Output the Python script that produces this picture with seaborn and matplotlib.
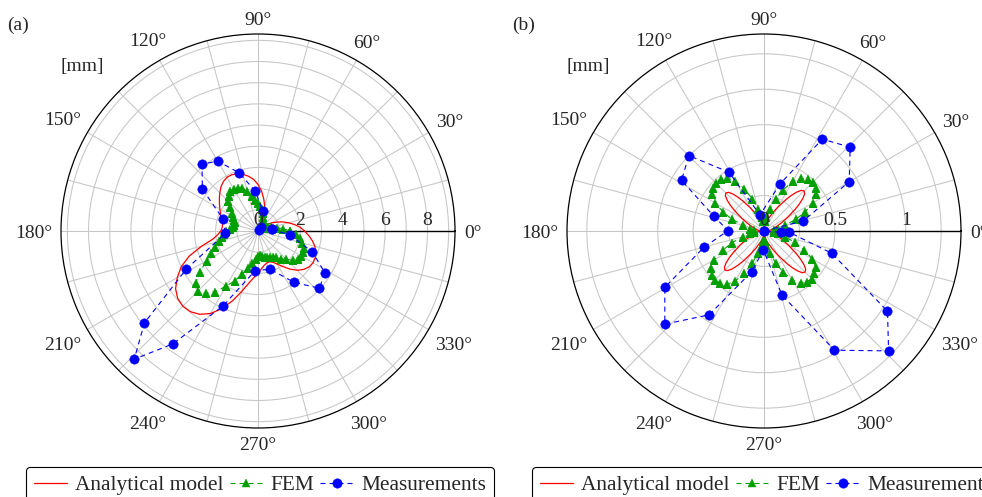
import numpy as np
import pandas as pd
import matplotlib
matplotlib.use("Agg")
import matplotlib.pyplot as plt
from matplotlib.transforms import offset_copy, IdentityTransform
import seaborn as sns

# ---------------- data: panel (a) [mm] ----------------
a_model_deg = [0, 5, 10, 15, 20, 25, 30, 35, 40, 45, 50, 55, 60, 65, 70, 75, 80, 85,
               90, 95, 100, 105, 110, 115, 120, 125, 130, 135, 140, 145, 150, 155, 160, 165,
               170, 175, 180, 185, 190, 195, 200, 205, 210, 215, 220, 225, 230, 235, 240, 245,
               250, 255, 260, 265, 270, 275, 280, 285, 290, 295, 300, 305, 310, 315, 320, 325,
               330, 335, 340, 345, 350, 355]
a_model_r = [2.2, 2.0, 1.75, 1.5, 1.25, 1.0, 0.78, 0.58, 0.45, 0.38, 0.38, 0.45, 0.58, 0.75,
             0.97, 1.22, 1.55, 1.9, 2.2, 2.45, 2.63, 2.77, 2.87, 2.93, 2.93, 2.85, 2.72, 2.55,
             2.38, 2.22, 2.08, 1.95, 1.84, 1.75, 1.7, 1.7, 1.76, 1.9, 2.15, 2.75, 3.45, 4.0,
             4.4, 4.75, 4.95, 5.02, 4.97, 4.8, 4.5, 4.05, 3.5, 2.95, 2.5, 2.2, 2.0, 1.8, 1.65,
             1.57, 1.55, 1.62, 1.8, 2.05, 2.35, 2.62, 2.82, 2.95, 3.0, 2.98, 2.9, 2.78, 2.6, 2.4]

a_fem_deg = [0, 5, 10, 15, 20, 25, 30, 35, 40, 45, 50, 55, 60, 65, 70, 75, 80, 85,
             90, 95, 100, 105, 110, 115, 120, 125, 130, 135, 140, 145, 150, 155, 160, 165,
             170, 175, 180, 185, 190, 195, 200, 205, 210, 215, 220, 225, 230, 235, 240, 245,
             250, 255, 260, 265, 270, 275, 280, 285, 290, 295, 300, 305, 310, 315, 320, 325,
             330, 335, 340, 345, 350, 355]
a_fem_r = [1.5, 1.2, 0.9, 0.65, 0.5, 0.4, 0.32, 0.3, 0.3, 0.3, 0.35, 0.4, 0.45, 0.55, 0.7,
           0.9, 1.05, 1.2, 1.3, 1.45, 1.7, 1.95, 2.15, 2.25, 2.3, 2.28, 2.15, 1.97, 1.75, 1.5,
           1.35, 1.25, 1.18, 1.18, 1.22, 1.35, 1.5, 1.6, 1.72, 1.9, 2.15, 2.45, 2.8, 3.35, 3.85,
           3.98, 3.85, 3.5, 3.0, 2.6, 2.15, 1.8, 1.55, 1.35, 1.2, 1.15, 1.2, 1.25, 1.3, 1.35,
           1.4, 1.5, 1.7, 1.9, 2.15, 2.3, 2.33, 2.35, 2.3, 2.15, 2.0, 1.8]

a_meas_deg = [7, 30, 55, 77, 94, 108, 120, 130, 143, 161, 184, 208, 219, 226, 233, 245,
              266, 288, 305, 317, 328, 339, 353]
a_meas_r = [0.65, 0.05, 0.25, 0.97, 1.89, 2.89, 3.81, 4.11, 3.29, 1.75, 1.54, 3.84, 6.9,
            8.41, 6.67, 3.9, 1.87, 1.9, 2.96, 3.96, 3.73, 2.74, 1.52]

# ---------------- data: panel (b) [mm] ----------------
b_model_deg = [0, 15, 25, 30, 35, 37.5, 40, 42.5, 45, 47.5, 50, 52.5, 55, 60, 65, 75,
               90, 105, 115, 120, 125, 127.5, 130, 132.5, 135, 137.5, 140, 142.5, 145, 150, 155, 165,
               180, 195, 205, 210, 215, 217.5, 220, 222.5, 225, 227.5, 230, 232.5, 235, 240, 245, 255,
               270, 285, 295, 300, 305, 307.5, 310, 312.5, 315, 317.5, 320, 322.5, 325, 330, 335, 345]
b_model_r = [0.033, 0.073, 0.136, 0.193, 0.271, 0.316, 0.358, 0.389, 0.40, 0.389, 0.358, 0.316,
             0.271, 0.193, 0.136, 0.073,
             0.032, 0.069, 0.13, 0.183, 0.257, 0.30, 0.34, 0.37, 0.38, 0.37, 0.34, 0.30,
             0.257, 0.183, 0.13, 0.069,
             0.032, 0.071, 0.133, 0.188, 0.264, 0.308, 0.349, 0.379, 0.39, 0.379, 0.349, 0.308,
             0.264, 0.188, 0.133, 0.071,
             0.033, 0.075, 0.139, 0.198, 0.278, 0.324, 0.367, 0.399, 0.41, 0.399, 0.367, 0.324,
             0.278, 0.198, 0.139, 0.075]

b_fem_deg = a_fem_deg
b_fem_r = [0.07, 0.07, 0.10, 0.15, 0.24, 0.32, 0.40, 0.45, 0.475, 0.485, 0.48, 0.455, 0.405,
           0.32, 0.24, 0.16, 0.10, 0.07,
           0.07, 0.07, 0.10, 0.16, 0.24, 0.33, 0.41, 0.455, 0.475, 0.48, 0.47, 0.45, 0.40,
           0.32, 0.24, 0.15, 0.10, 0.07,
           0.07, 0.07, 0.10, 0.15, 0.24, 0.32, 0.405, 0.455, 0.48, 0.49, 0.48, 0.46, 0.41,
           0.33, 0.24, 0.16, 0.10, 0.07,
           0.07, 0.07, 0.10, 0.16, 0.24, 0.32, 0.40, 0.45, 0.47, 0.475, 0.465, 0.445, 0.395,
           0.31, 0.23, 0.15, 0.10, 0.07]

b_meas_deg = [0, 14.3, 30.1, 44.2, 57.6, 71.2, 104, 120.8, 134.9, 148.4, 163.4, 179.5, 195.2,
              209.6, 223.2, 236.8, 253.2, 268, 285.7, 300.6, 316.1, 327, 341.8, 357, 355.5]
b_meas_r = [0.0, 0.287, 0.695, 0.848, 0.768, 0.351, 0.117, 0.483, 0.751, 0.683, 0.371, 0.254,
            0.44, 0.805, 0.96, 0.707, 0.30, 0.134, 0.47, 0.977, 1.22, 1.039, 0.504, 0.179, 0.118]

series_names = ["Analytical model", "FEM", "Measurements"]

# ---------------- style ----------------
sns.set_style("white")
plt.rcParams['font.family'] = ['Liberation Serif', 'DejaVu Serif']
FS = 14
RED, GREEN, BLUE = '#ff0000', '#00a000', '#0000ff'
GRID = '#c6c6c6'

W, H = 982, 497
fig = plt.figure(figsize=(W / 100, H / 100), dpi=100)


def df_closed(deg, r):
    d = list(deg) + [deg[0]]
    rr = list(r) + [r[0]]
    return pd.DataFrame({'theta': np.deg2rad(d), 'r': rr})


def panel(x0, rmax, rgrid, rticks, rticklabels, model, fem, meas, tag, tag_x):
    ax = fig.add_axes([x0 / W, (H - 428) / H, 394 / W, 394 / H], projection='polar')
    ax.set_ylim(0, rmax)
    ax.set_xticks(np.deg2rad(np.arange(0, 360, 15)))
    ax.set_xticklabels([])
    ax.set_yticks(rgrid)
    ax.set_yticklabels([])
    ax.tick_params(length=0)
    ax.grid(True, color=GRID, lw=0.75)
    ax.spines['polar'].set_color('k')
    ax.spines['polar'].set_linewidth(0.9)
    ax.axvline(0, color='k', lw=1.0, zorder=1.5)

    sns.lineplot(data=df_closed(*model), x='theta', y='r', sort=False, estimator=None,
                 ax=ax, color=RED, lw=0.9, label=series_names[0], legend=False, zorder=3)
    sns.lineplot(data=df_closed(*fem), x='theta', y='r', sort=False, estimator=None,
                 ax=ax, color=GREEN, lw=0.8, linestyle=(0, (4.5, 3.6)), marker='^',
                 markersize=6.3, markeredgecolor=GREEN, markeredgewidth=0.3,
                 label=series_names[1], legend=False, zorder=4)
    sns.lineplot(data=df_closed(*meas), x='theta', y='r', sort=False, estimator=None,
                 ax=ax, color=BLUE, lw=0.8, linestyle=(0, (4.5, 3.6)), marker='o',
                 markersize=6.8, markeredgecolor=BLUE, markeredgewidth=0.3,
                 label=series_names[2], legend=False, zorder=5)
    ax.set_xlabel('')
    ax.set_ylabel('')

    # radial tick labels above the 0 deg axis line
    tr = offset_copy(ax.transData, fig=fig, x=0, y=6, units='dots')
    for v, s in zip(rticks, rticklabels):
        ax.text(0, v, s, transform=tr, ha='center', va='baseline', fontsize=FS, zorder=6)

    # angular labels outside the circle
    renderer = fig.canvas.get_renderer()
    cap = 13.0
    gap = 9.0
    for deg in range(0, 360, 30):
        th = np.deg2rad(deg)
        px, py = ax.transData.transform((th, rmax))
        t = fig.text(0, 0, f"{deg}°", fontsize=FS, ha='center', va='baseline',
                     transform=IdentityTransform())
        w = t.get_window_extent(renderer).width
        c, s = np.cos(th), np.sin(th)
        d = gap + abs(c) * w / 2 + abs(s) * cap / 2
        t.set_position((px + d * c, py + d * s - cap / 2))

    # unit label and panel tag
    cx = x0 + 197
    fig.text((cx - 176) / W, 1 - 66 / H, '[mm]', ha='center', va='center', fontsize=FS)
    fig.text(tag_x / W, 1 - 25.5 / H, tag, ha='center', va='center', fontsize=FS)

    leg = ax.legend(loc='upper center', bbox_to_anchor=(0.5 + 2 / 394, -39 / 394),
                    ncol=3, fontsize=15.4, frameon=True, fancybox=True, borderaxespad=0,
                    handlelength=1.55, handletextpad=0.35, columnspacing=0.3,
                    borderpad=0.38, numpoints=1)
    fr = leg.get_frame()
    fr.set_edgecolor('k')
    fr.set_linewidth(0.8)
    fr.set_alpha(1)
    return ax


fig.canvas.draw()
panel(61, 9.3, [1, 2, 3, 4, 5, 6, 7, 8, 9], [0, 2, 4, 6, 8], ['0', '2', '4', '6', '8'],
      (a_model_deg, a_model_r), (a_fem_deg, a_fem_r), (a_meas_deg, a_meas_r), '(a)', 17.5)
panel(567, 1.39, [0.25, 0.5, 0.75, 1.0, 1.25], [0, 0.5, 1.0], ['0', '0.5', '1'],
      (b_model_deg, b_model_r), (b_fem_deg, b_fem_r), (b_meas_deg, b_meas_r), '(b)', 524)

fig.savefig('out.png', dpi=100)
